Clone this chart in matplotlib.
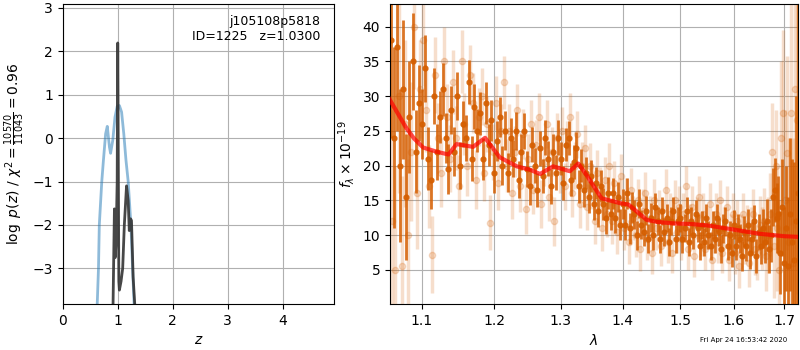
"""Redshift fit summary for j105108p5818 ID=1225: log p(z) on the left,
the 1D spectrum with its best-fit model on the right. Writes out.png."""

import matplotlib
matplotlib.use("Agg")
import matplotlib.pyplot as plt
from matplotlib.ticker import FixedLocator, FormatStrFormatter, NullLocator
import numpy as np

# --- p(z) panel -----------------------------------------------------------
z_prior = [0.60, 0.625, 0.65, 0.665, 0.71, 0.74, 0.78, 0.81, 0.85, 0.87,
           0.91, 0.95, 0.99, 1.03, 1.07, 1.11, 1.15, 1.19, 1.24, 1.27, 1.31]
lnp_prior = [-6.0, -3.9, -3.0, -2.0, -1.0, -0.51, 0.10, 0.27, -0.21, -0.35,
             -0.05, 0.48, 0.73, 0.75, 0.60, 0.10, -0.51, -1.0, -2.0, -3.0, -4.2]

z_fit = [0.90, 0.915, 0.94, 0.95, 0.955, 0.97, 0.99, 1.00, 1.005, 1.02,
         1.03, 1.06, 1.09, 1.12, 1.145, 1.16, 1.19, 1.21, 1.235, 1.25,
         1.28, 1.31, 1.33]
lnp_fit = [-4.5, -3.82, -1.63, -2.75, -2.75, -2.4, -1.0, 2.19, 1.0, -3.3,
           -3.5, -3.3, -3.0, -2.0, -1.44, -1.1, -1.44, -2.13, -1.86, -1.9,
           -3.2, -3.84, -4.5]

# --- spectrum panel: main extraction (wavelength in nm) -------------------
wave_a = [1060, 1064, 1068, 1072, 1076, 1080, 1084, 1088, 1092, 1096,
          1100, 1104, 1108, 1112, 1116, 1120, 1124, 1128, 1132, 1136,
          1140, 1144, 1148, 1152, 1156, 1160, 1164, 1168, 1172, 1176,
          1180, 1184, 1188, 1192, 1196, 1200, 1204, 1208, 1212, 1216,
          1220, 1224, 1228, 1232, 1236, 1240, 1244, 1248, 1252, 1256,
          1260, 1264, 1268, 1272, 1276, 1280, 1284, 1288, 1292, 1296,
          1300, 1304, 1308, 1312, 1316, 1320, 1324, 1328, 1332, 1336,
          1340, 1344, 1348, 1352, 1356, 1360, 1364, 1368, 1372, 1376,
          1380, 1384, 1388, 1392, 1396, 1400, 1404, 1408, 1412, 1416,
          1420, 1424, 1428, 1432, 1436, 1440, 1444, 1448, 1452, 1456,
          1460, 1464, 1468, 1472, 1476, 1480, 1484, 1488, 1492, 1496,
          1500, 1504, 1508, 1512, 1516, 1520, 1524, 1528, 1532, 1536,
          1540, 1544, 1548, 1552, 1556, 1560, 1564, 1568, 1572, 1576,
          1580, 1584, 1588, 1592, 1596, 1600, 1604, 1608, 1612, 1616,
          1620, 1624, 1628, 1632, 1636, 1640, 1644, 1648, 1652, 1656,
          1660, 1664, 1668, 1672, 1676, 1680, 1684, 1688, 1692, 1696,
          1700, 1704, 1708, 1712, 1716, 1720, 1724, 1728]
flux_a = [38, 24, 37, 20, 31, 15.5, 27, 35, 22, 29,
          26, 34, 21, 18, 30, 22, 27, 31, 24, 19.5,
          28, 22, 30, 20, 26, 24, 32, 21, 28.5, 25,
          27.5, 21, 29, 23, 26.5, 19, 23.5, 27, 20, 25,
          19, 24, 21, 25, 18, 22, 25, 19.5, 17, 23,
          20, 16.5, 22.5, 18.5, 24, 21, 17, 22, 19, 24,
          21, 17.5, 23, 24, 18, 20.5, 22.5, 17, 20, 16.5,
          19, 15.5, 18.5, 14.5, 17.5, 13.5, 17, 14.5, 12.5, 16,
          13, 16, 12.5, 15.5, 11.5, 14.5, 11.5, 16, 11, 14,
          13, 10, 14.5, 11.5, 10.5, 13.5, 9.5, 12.5, 10, 14,
          12, 9.5, 13.5, 10.5, 12.5, 9, 12, 13.5, 9.5, 12,
          12.5, 9.5, 11, 13.5, 9, 12, 10, 13, 11, 8.5,
          11.5, 9, 12.5, 10, 8.5, 11.5, 9.5, 12.5, 10.5, 8,
          11, 12, 8.5, 10, 7.5, 11.5, 8.5, 11, 9.5, 7,
          10.5, 8.5, 11.5, 7.5, 9.5, 12, 7, 10.5, 8.5, 11,
          9, 12, 8, 10, 15.5, 16.5, 12.5, 13, 7.5, 14,
          6, 11, 5.5, 13, 9, 6.5, 12, 16]
err_a = [14, 13, 12, 11, 10, 9, 8, 7, 6, 5.5,
         5, 4.8, 4.5, 4.3, 4, 4, 3.8, 3.8, 3.6, 3.6,
         3.5, 3.5, 3.4, 3.4, 3.3, 3.3, 3.2, 3.2, 3.2, 3.1,
         3.1, 3, 3, 3, 3, 2.9, 2.9, 2.9, 2.8, 2.8,
         2.8, 2.8, 2.7, 2.7, 2.7, 2.6, 2.6, 2.6, 2.6, 2.5,
         2.5, 2.5, 2.5, 2.5, 2.5, 2.5, 2.5, 2.5, 2.5, 2.5,
         2.4, 2.4, 2.4, 2.4, 2.4, 2.4, 2.4, 2.4, 2.4, 2.4,
         2.3, 2.3, 2.3, 2.3, 2.3, 2.3, 2.3, 2.3, 2.3, 2.3,
         2.2, 2.2, 2.2, 2.2, 2.2, 2.2, 2.2, 2.2, 2.2, 2.2,
         2.1, 2.1, 2.1, 2.1, 2.1, 2.1, 2.1, 2.1, 2.1, 2.1,
         2, 2, 2, 2, 2, 2, 2, 2, 2, 2,
         2, 2, 2, 2, 2, 2, 2, 2, 2, 2,
         2, 2, 2, 2, 2, 2, 2, 2, 2, 2,
         2.1, 2.1, 2.1, 2.1, 2.1, 2.1, 2.1, 2.1, 2.1, 2.1,
         2.2, 2.2, 2.3, 2.3, 2.4, 2.4, 2.5, 2.6, 2.7, 2.8,
         3, 3.2, 3.5, 3.8, 4.2, 4.6, 5, 5.5, 6, 7,
         8, 9, 10, 11, 12, 14, 18, 30]

# --- spectrum panel: second extraction (faint) ----------------------------
wave_b = [1062, 1066, 1070, 1074, 1078, 1082, 1086, 1090, 1094, 1098,
          1102, 1106, 1110, 1114, 1118, 1122, 1126, 1130, 1134, 1138,
          1142, 1146, 1150, 1154, 1158, 1162, 1166, 1170, 1174, 1178,
          1182, 1186, 1190, 1194, 1198, 1202, 1206, 1210, 1214, 1218,
          1222, 1226, 1230, 1234, 1238, 1242, 1246, 1250, 1254, 1258,
          1262, 1266, 1270, 1274, 1278, 1282, 1286, 1290, 1294, 1298,
          1302, 1306, 1310, 1314, 1318, 1322, 1326, 1330, 1334, 1338,
          1342, 1346, 1350, 1354, 1358, 1362, 1366, 1370, 1374, 1378,
          1382, 1386, 1390, 1394, 1398, 1402, 1406, 1410, 1414, 1418,
          1422, 1426, 1430, 1434, 1438, 1442, 1446, 1450, 1454, 1458,
          1462, 1466, 1470, 1474, 1478, 1482, 1486, 1490, 1494, 1498,
          1502, 1506, 1510, 1514, 1518, 1522, 1526, 1530, 1534, 1538,
          1542, 1546, 1550, 1554, 1558, 1562, 1566, 1570, 1574, 1578,
          1582, 1586, 1590, 1594, 1598, 1602, 1606, 1610, 1614, 1618,
          1622, 1626, 1630, 1634, 1638, 1642, 1646, 1650, 1654, 1658,
          1662, 1666, 1670, 1674, 1678, 1682, 1686, 1690, 1694, 1698,
          1702, 1706, 1710, 1714, 1718, 1722, 1726]
flux_b = [12, 5, 30, 5.5, 26, 10, 22, 40, 16, 31,
          38, 28, 17, 7.2, 33, 24, 19, 35, 27, 21,
          32, 24, 17, 35, 26, 20, 33, 29, 18, 27,
          30, 19, 26, 11.8, 22, 29, 17.5, 25, 32, 20,
          25, 16, 22, 28, 17, 24.5, 13.8, 21, 26, 16.5,
          23, 27, 14.5, 20.5, 26, 15.5, 22, 12, 24, 19.5,
          25, 17, 23, 27, 16, 20, 24.5, 14.5, 20, 22.5,
          14, 20, 17, 12, 19, 16.5, 11, 18, 13, 20,
          12, 17.5, 10.5, 15, 18.5, 11, 15, 9, 16.5, 12.5,
          10, 15, 8, 13.5, 16, 9.5, 12.5, 7.5, 15, 11,
          13.5, 8.5, 12, 16.5, 9, 13, 7.5, 15, 10.5, 14,
          9.5, 13, 17, 8, 11.5, 14, 7, 12.5, 15.5, 10,
          13, 8, 11, 14.5, 6.5, 10.5, 13, 9, 15, 7.5,
          11, 14, 6.5, 10, 13, 7.5, 12, 5.5, 10, 13,
          9, 11, 6, 10.5, 13, 8, 7.5, 11.5, 9.5, 12,
          7, 10, 13, 22, 8.5, 20, 11, 5, 24, 27.5,
          15, 21.8, 9, 27.5, 6, 31, 26.6]
err_b = [16, 15, 14, 13, 12, 11, 10, 9, 8, 7,
         6.5, 6, 6, 5.5, 5.5, 5, 5, 5, 4.8, 4.8,
         4.6, 4.6, 4.5, 4.5, 4.4, 4.4, 4.3, 4.3, 4.2, 4.2,
         4.1, 4.1, 4, 4, 4, 3.9, 3.9, 3.9, 3.8, 3.8,
         3.8, 3.7, 3.7, 3.7, 3.6, 3.6, 3.6, 3.5, 3.5, 3.5,
         3.5, 3.5, 3.5, 3.5, 3.5, 3.5, 3.5, 3.5, 3.5, 3.5,
         3.4, 3.4, 3.4, 3.4, 3.4, 3.4, 3.4, 3.4, 3.4, 3.4,
         3.3, 3.3, 3.3, 3.3, 3.3, 3.3, 3.3, 3.3, 3.3, 3.3,
         3.2, 3.2, 3.2, 3.2, 3.2, 3.2, 3.2, 3.2, 3.2, 3.2,
         3.1, 3.1, 3.1, 3.1, 3.1, 3.1, 3.1, 3.1, 3.1, 3.1,
         3, 3, 3, 3, 3, 3, 3, 3, 3, 3,
         3, 3, 3, 3, 3, 3, 3, 3, 3, 3,
         3, 3, 3, 3, 3, 3, 3, 3, 3, 3,
         3.1, 3.1, 3.1, 3.1, 3.1, 3.1, 3.1, 3.1, 3.1, 3.1,
         3.2, 3.3, 3.4, 3.5, 3.6, 3.8, 4, 4.2, 4.5, 4.8,
         5, 5.5, 6, 7, 7.5, 8, 9, 10, 11, 12,
         13, 14, 15, 16, 18, 20, 25]

# --- best-fit model (um, flux) --------------------------------------------
wave_model = [1.055, 1.07, 1.08, 1.09, 1.102, 1.12, 1.136, 1.147, 1.17,
              1.187, 1.208, 1.233, 1.253, 1.268, 1.288, 1.314, 1.3275,
              1.341, 1.365, 1.396, 1.41, 1.441, 1.46, 1.487, 1.52, 1.55,
              1.60, 1.65, 1.70, 1.73]
flux_model = [30.2, 27.3, 25.4, 23.9, 22.6, 22.0, 21.6, 23.1, 22.7,
              24.0, 21.2, 19.9, 19.4, 18.8, 19.9, 19.2, 20.3,
              18.6, 15.3, 14.6, 14.4, 12.2, 11.9, 11.7, 11.6, 11.4,
              10.8, 10.2, 9.85, 9.75]

ORANGE = "#d55e00"

fig = plt.figure(figsize=(8, 3.5), dpi=100)
ax_z = fig.add_axes([0.0784, 0.1314, 0.339, 0.8563])
ax_s = fig.add_axes([0.4875, 0.1314, 0.51, 0.8563])

# p(z)
ax_z.plot(z_prior, lnp_prior, color="C0", alpha=0.5, lw=2)
ax_z.plot(z_fit, lnp_fit, color="0.2", alpha=0.9, lw=2)
ax_z.set_xlim(0, 4.93)
ax_z.set_ylim(-3.82, 3.08)
ax_z.set_xticks([0, 1, 2, 3, 4])
ax_z.set_yticks([-3, -2, -1, 0, 1, 2, 3])
ax_z.set_xlabel(r"$z$")
ax_z.set_ylabel(r"$\log\ p(z)$ / $\chi^2=\frac{10570}{11043}=0.96$")
ax_z.text(0.95, 0.965, "j105108p5818\nID=1225   z=1.0300", fontsize=9,
          ha="right", va="top", transform=ax_z.transAxes)
ax_z.grid()

# spectrum
ax_s.errorbar(np.array(wave_b) / 1000, flux_b, yerr=err_b, color=ORANGE,
              alpha=0.2, marker="o", ms=4.5, lw=2.5, ls="none")
ax_s.errorbar(np.array(wave_a) / 1000, flux_a, yerr=err_a, color=ORANGE,
              alpha=0.85, marker="o", ms=3.5, lw=2, ls="none")
ax_s.plot(wave_model, flux_model, color="r", alpha=0.7, lw=3, zorder=10)
ax_s.set_xscale("log")
ax_s.set_xlim(1.059, 1.728)
ax_s.set_ylim(0.1, 43.2)
ax_s.xaxis.set_major_locator(FixedLocator([1.1, 1.2, 1.3, 1.4, 1.5, 1.6, 1.7]))
ax_s.xaxis.set_major_formatter(FormatStrFormatter("%.1f"))
ax_s.xaxis.set_minor_locator(NullLocator())
ax_s.set_yticks([5, 10, 15, 20, 25, 30, 35, 40])
ax_s.set_xlabel(r"$\lambda$")
ax_s.set_ylabel(r"$f_\lambda\times10^{-19}$")
ax_s.grid()

fig.text(0.984, 0.028, "Fri Apr 24 16:53:42 2020", fontsize=5,
         ha="right", va="center")

fig.savefig("out.png", dpi=100)
